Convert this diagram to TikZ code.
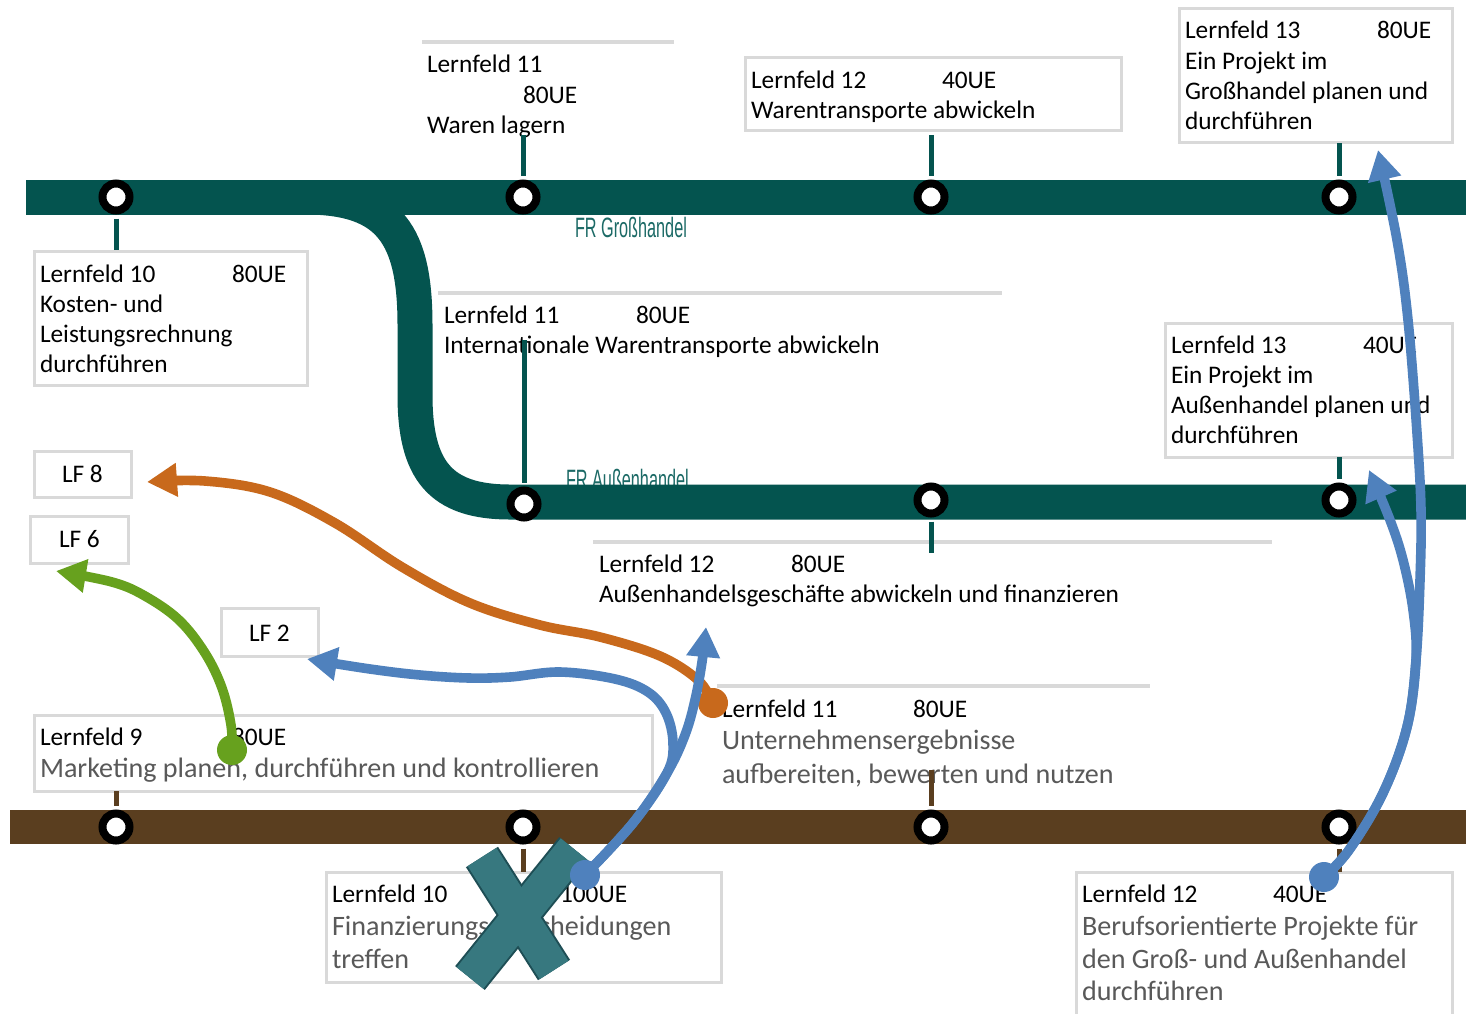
\documentclass[tikz,border=0pt]{standalone}
\usepackage{fontspec}
\setmainfont{Carlito}
\newfontfamily\frfont{Liberation Sans}
\usepackage{graphicx}
\usetikzlibrary{arrows.meta}
\definecolor{lineteal}{HTML}{04544F}
\definecolor{frteal}{HTML}{1C6A66}
\definecolor{linebrown}{HTML}{5A3E1F}
\definecolor{boxgray}{HTML}{D9D9D9}
\definecolor{txtgray}{HTML}{595959}
\definecolor{arrblue}{HTML}{4F81BD}
\definecolor{arrorange}{HTML}{C8691C}
\definecolor{arrgreen}{HTML}{67A11E}
\definecolor{xfillc}{HTML}{37787F}
\definecolor{xlinec}{HTML}{1E4E55}
\tikzset{
  tb/.style={anchor=base west, inner sep=0pt, outer sep=0pt, font=\fontsize{12.66}{15}\selectfont, text=black},
  tg/.style={anchor=base west, inner sep=0pt, outer sep=0pt, font=\fontsize{14.05}{17}\selectfont, text=txtgray},
  frlab/.style={anchor=base west, inner sep=0pt, outer sep=0pt, text=frteal},
  infobox/.style={draw=boxgray, line width=1.5pt, fill=white},
  rulebar/.style={draw=boxgray, line width=2pt},
  tealline/.style={draw=lineteal, line width=17.5pt},
  brownline/.style={draw=linebrown, line width=17pt},
  station/.style={circle, draw=black, fill=white, line width=4pt, minimum size=13.5pt, inner sep=0pt},
  tealstub/.style={draw=lineteal, line width=2.5pt, shorten <=2pt},
  brownstub/.style={draw=linebrown, line width=2.5pt, shorten <=2pt},
  dotnode/.style={circle, inner sep=0pt, minimum size=15pt},
  arrowline/.style={line width=4.8pt, -{Triangle[length=15pt,width=16pt]}},
  xout/.style={draw=xlinec, line width=19pt},
  xin/.style={draw=xfillc, line width=17pt}
}
\begin{document}
\begin{tikzpicture}[x=0.5pt,y=-0.5pt]
\useasboundingbox (0,0) rectangle (1466,1013);
\fill[white] (0,0) rectangle (1466,1013);

% ---------- boxes and rules ----------
\draw[infobox] (34,251) rectangle (307,385);
\draw[infobox] (745,57) rectangle (1121,130);
\draw[infobox] (1179,8) rectangle (1452,142);
\draw[infobox] (1165,323) rectangle (1452,457);
\draw[infobox] (34,451) rectangle (131,497);
\draw[infobox] (30,516) rectangle (128,563);
\draw[infobox] (221,608) rectangle (318,656);
\draw[infobox] (34,715) rectangle (652,791);
\draw[infobox] (326,872) rectangle (721,982);
\draw[infobox] (1076,872) rectangle (1452,1030);
\draw[rulebar] (422,42) -- (674,42);
\draw[rulebar] (438,293) -- (1002,293);
\draw[rulebar] (593,542) -- (1272,542);
\draw[rulebar] (717,686) -- (1150,686);

% ---------- texts ----------
\node[tb] (a1) at (40,282) {Lernfeld 10};
\node[tb] (a2) at (232,282) {80UE};
\node[tb] (a3) at (40,312) {Kosten- und};
\node[tb] (a4) at (40,342) {Leistungsrechnung};
\node[tb] (a5) at (40,372) {durchführen};

\node[tb] (b1) at (427,72) {Lernfeld 11};
\node[tb] (b2) at (523,103) {80UE};
\node[tb] (b3) at (427,133) {Waren lagern};

\node[tb] (c1) at (751,88) {Lernfeld 12};
\node[tb] (c2) at (942,88) {40UE};
\node[tb] (c3) at (751,118) {Warentransporte abwickeln};

\node[tb] (d1) at (1185,38) {Lernfeld 13};
\node[tb] (d2) at (1377,38) {80UE};
\node[tb] (d3) at (1185,69) {Ein Projekt im};
\node[tb] (d4) at (1185,99) {Großhandel planen und};
\node[tb] (d5) at (1185,129) {durchführen};

\node[tb] (e1) at (444,323) {Lernfeld 11};
\node[tb] (e2) at (636,323) {80UE};
\node[tb] (e3) at (444,353) {Internationale Warentransporte abwickeln};

\node[tb] (f1) at (1171,353) {Lernfeld 13};
\node[tb] (f2) at (1363,353) {40UE};
\node[tb] (f3) at (1171,383) {Ein Projekt im};
\node[tb] (f4) at (1171,413) {Außenhandel planen und};
\node[tb] (f5) at (1171,443) {durchführen};

\node[tb] (g1) at (599,572) {Lernfeld 12};
\node[tb] (g2) at (791,572) {80UE};
\node[tb] (g3) at (599,602) {Außenhandelsgeschäfte abwickeln und finanzieren};

\node[tb] (h1) at (62,482) {LF 8};
\node[tb] (h2) at (59,547) {LF 6};
\node[tb] (h3) at (249,641) {LF 2};

\node[tb] (i1) at (40,745) {Lernfeld 9};
\node[tb] (i2) at (232,745) {80UE};
\node[tg] (i3) at (40,777) {Marketing planen, durchführen und kontrollieren};

\node[tb] (j1) at (722,717) {Lernfeld 11};
\node[tb] (j2) at (913,717) {80UE};
\node[tg] (j3) at (722,749) {Unternehmensergebnisse};
\node[tg] (j4) at (722,783) {aufbereiten, bewerten und nutzen};

\node[tb] (k1) at (332,902) {Lernfeld 10};
\node[tb] (k2) at (560,902) {100UE};
\node[tg] (k3) at (332,935) {Finanzierungsentscheidungen};
\node[tg] (k4) at (332,968) {treffen};

\node[tb] (l1) at (1082,902) {Lernfeld 12};
\node[tb] (l2) at (1273,902) {40UE};
\node[tg] (l3) at (1082,935) {Berufsorientierte Projekte für};
\node[tg] (l4) at (1082,968) {den Groß- und Außenhandel};
\node[tg] (l5) at (1082,1000) {durchführen};

\node[frlab] (fr1) at (575,237) {\scalebox{0.58}[1]{\frfont\fontsize{14}{14}\selectfont FR Großhandel}};
\node[frlab] (fr2) at (566,489) {\scalebox{0.58}[1]{\frfont\fontsize{14}{14}\selectfont FR Außenhandel}};

% ---------- lines ----------
\begin{scope}
\clip (0,206) rectangle (1466,1013);
\draw[tealline] (305,197) .. controls (390,197) and (415,235) .. (415,325) -- (415,395) .. controls (415,470) and (440,502) .. (510,502) -- (1466,502);
\end{scope}
\draw[tealline] (26,197) -- (1466,197);
\draw[brownline] (10,827) -- (1466,827);

% ---------- stations ----------
\node[station] (s1) at (116,197) {};
\node[station] (s2) at (523,197) {};
\node[station] (s3) at (931,197) {};
\node[station] (s4) at (1339,197) {};
\node[station] (m1) at (524,504) {};
\node[station] (m2) at (931,500) {};
\node[station] (m3) at (1339,500) {};
\node[station] (u1) at (116,827) {};
\node[station] (u2) at (523,827) {};
\node[station] (u3) at (931,827) {};
\node[station] (u4) at (1339,827) {};

% ---------- stubs ----------
\coordinate (ts1) at (116,250);
\coordinate (ts2) at (523,135);
\coordinate (ts3) at (931,135);
\coordinate (ts4) at (1339,143);
\coordinate (tm1) at (524,340);
\coordinate (tm2) at (931,553);
\coordinate (tm3) at (1339,457);
\coordinate (tu1) at (116,791);
\coordinate (tu2) at (523,872);
\coordinate (tu3) at (931,770);
\coordinate (tu4) at (1339,872);
\draw[tealstub] (s1) -- (ts1);
\draw[tealstub] (s2) -- (ts2);
\draw[tealstub] (s3) -- (ts3);
\draw[tealstub] (s4) -- (ts4);
\draw[tealstub] (m1) -- (tm1);
\draw[tealstub] (m2) -- (tm2);
\draw[tealstub] (m3) -- (tm3);
\draw[brownstub] (u1) -- (tu1);
\draw[brownstub] (u2) -- (tu2);
\draw[brownstub] (u3) -- (tu3);
\draw[brownstub] (u4) -- (tu4);

% ---------- X mark ----------
\coordinate (xa1) at (482,857);
\coordinate (xa2) at (554,970);
\coordinate (xb1) at (574,849);
\coordinate (xb2) at (470,978);
\draw[xout] (xa1) -- (xa2);
\draw[xout] (xb1) -- (xb2);
\draw[xin] (xa1) -- (xa2);
\draw[xin] (xb1) -- (xb2);

% ---------- arrows ----------
\node[dotnode, fill=arrorange] (od) at (713,703) {};
\coordinate (oe) at (147,482);
\draw[arrowline, arrorange] plot[smooth, tension=0.6] coordinates {(713,703) (698,680) (660,656) (600,637) (540,625) (470,603) (402,567) (335,523) (270,492) (205,481) (oe)};

\node[dotnode, fill=arrgreen] (gd) at (232,750) {};
\coordinate (ge) at (56,571);
\draw[arrowline, arrgreen] plot[smooth, tension=0.6] coordinates {(232,750) (231,725) (222,688) (205,653) (179,620) (145,596) (112,582) (ge)};

\node[dotnode, fill=arrblue] (bd1) at (585,875) {};
\coordinate (be1) at (706,627);
\coordinate (be2) at (307,659);
\draw[arrowline, arrblue] plot[smooth, tension=0.6] coordinates {(585,875) (633,823) (667,773) (685,735) (695,700) (702,662) (be1)};
\draw[arrowline, arrblue] plot[smooth, tension=0.6] coordinates {(585,875) (633,823) (667,773) (673,743) (666,713) (648,692) (615,679) (560,672) (510,677) (469,678) (420,675) (370,669) (be2)};

\node[dotnode, fill=arrblue] (bd2) at (1324,877) {};
\coordinate (be3) at (1378,150);
\coordinate (be4) at (1369,470);
\draw[arrowline, arrblue] plot[smooth, tension=0.6] coordinates {(1324,877) (1349,850) (1383,793) (1407,727) (1416,660) (1420,580) (1421,510) (1417,433) (1408,320) (1397,240) (be3)};
\draw[arrowline, arrblue] plot[smooth, tension=0.6] coordinates {(1324,877) (1349,850) (1383,793) (1407,727) (1416,660) (1413,610) (1403,560) (1390,520) (be4)};
\end{tikzpicture}
\end{document}
